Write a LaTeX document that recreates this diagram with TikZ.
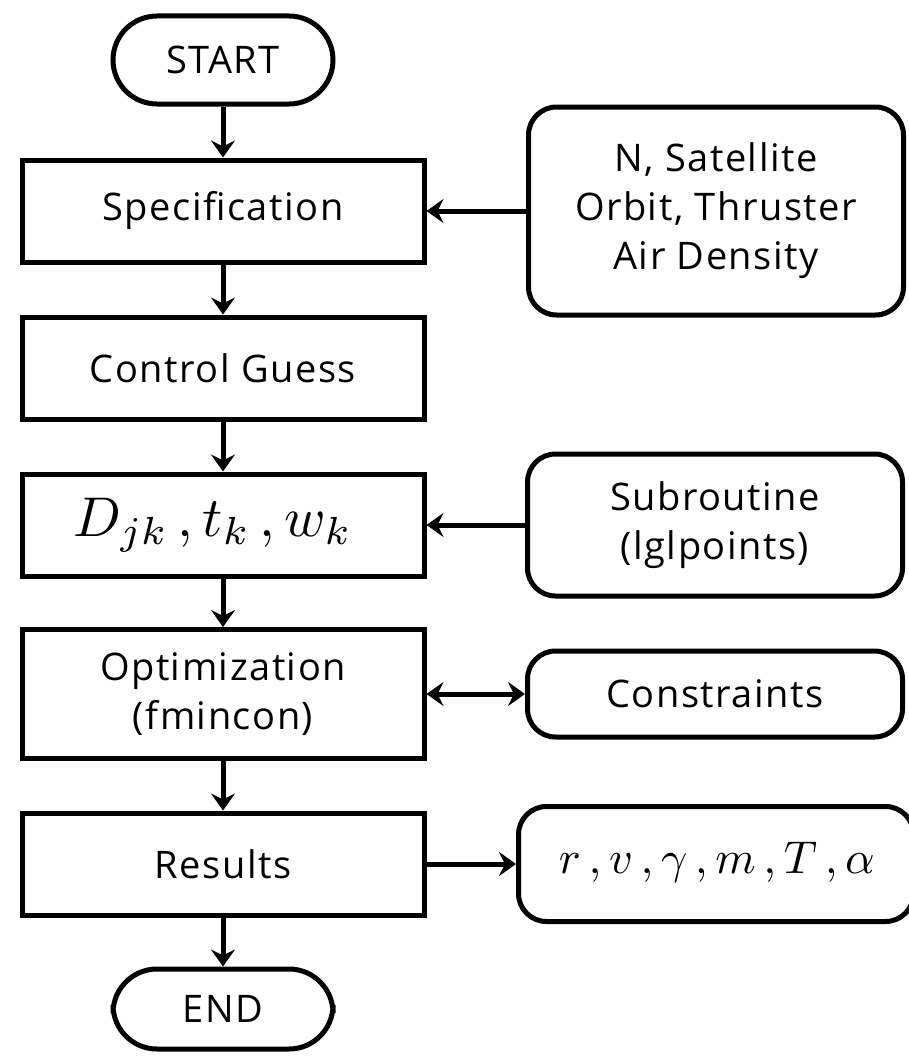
\documentclass[tikz,border=0pt]{standalone}
\usepackage{graphicx}
\usepackage{fontspec}
\setmainfont{Open Sans}[LetterSpace=4]
\usetikzlibrary{arrows.meta}
\newcommand{\bigmath}[2]{{\fontsize{10}{12}\selectfont\scalebox{#1}{$#2$}}}
\begin{document}
\begin{tikzpicture}[x=1pt,y=-1pt,
  every node/.style={inner sep=0pt, align=center, font=\fontsize{38}{49}\selectfont},
  proc/.style={draw, line width=5pt, minimum width=402pt, minimum height=102pt},
  term/.style={draw, line width=5pt, rounded corners=44pt, minimum width=220pt, minimum height=88pt},
  side/.style={draw, line width=5pt, rounded corners=28pt, minimum width=375pt},
  arr/.style={line width=5pt, -{Stealth[length=17pt,width=24pt,inset=6pt]}},
  darr/.style={line width=5pt, {Stealth[length=17pt,width=24pt,inset=6pt]}-{Stealth[length=17pt,width=24pt,inset=6pt]}}]
\useasboundingbox (0,0) rectangle (909,1057);
% main column
\node[term] (start) at (223,60) {START};
\node[proc] (spec) at (223,211) {Specification};
\node[proc] (guess) at (223,368) {Control Guess};
\node[proc] (dmat) at (223,525) {\bigmath{5.6}{D_{jk}\,,t_k\,,w_k}\hspace*{20pt}};
\node[proc, minimum height=129pt] (opt) at (223,694) {Optimization\\(fmincon)};
\node[proc] (res) at (223,864) {Results};
\node[term, minimum height=80pt] (end) at (223,1009) {END};
% side column
\node[side, minimum height=208pt] (input) at (716,211) {N, Satellite\\Orbit, Thruster\\Air Density};
\node[side, minimum height=142pt] (sub) at (715,525) {Subroutine\\(lglpoints)};
\node[side, minimum height=86pt] (cons) at (715,694) {Constraints};
\node[side, minimum width=395pt, minimum height=115pt] (out) at (716,864) {};
\node at (717,862) {\bigmath{4.6}{r\,,v\,,\gamma\,,m\,,T\,,\alpha}};
% connectors
\draw[arr] (start) -- (spec);
\draw[arr] (spec) -- (guess);
\draw[arr] (guess) -- (dmat);
\draw[arr] (dmat) -- (opt);
\draw[arr] (opt) -- (res);
\draw[arr] (res) -- (end);
\draw[arr] (input) -- (spec);
\draw[arr] (sub) -- (dmat);
\draw[darr] (opt) -- (cons);
\draw[arr] (res) -- (out);
\end{tikzpicture}
\end{document}
